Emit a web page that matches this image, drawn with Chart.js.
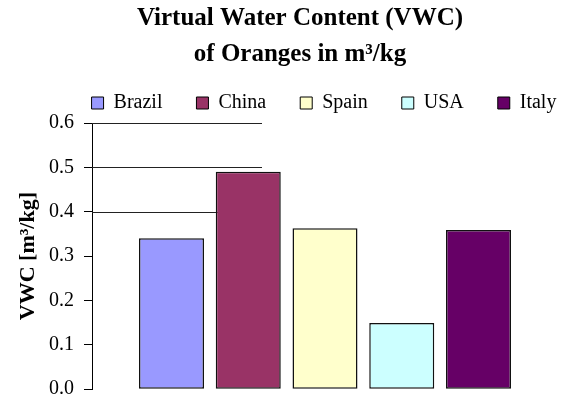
<!DOCTYPE html>
<html>
<head>
<meta charset="utf-8">
<script src="https://cdn.jsdelivr.net/npm/chart.js@4/dist/chart.umd.min.js"></script>
<style>
  html, body { margin: 0; padding: 0; background: #fff; }
  #wrap { width: 564px; height: 405px; }
</style>
</head>
<body>
<div id="wrap"><canvas id="myChart"></canvas></div>
<script>
const countries = ['Brazil', 'China', 'Spain', 'USA', 'Italy']
const vwc = [0.34, 0.49, 0.363, 0.149, 0.359]
const colors = ['#9999FF', '#993366', '#FFFFCC', '#CCFFFF', '#660066']
const yTicks = [0.0, 0.1, 0.2, 0.3, 0.4, 0.5, 0.6]

const serif = "'Liberation Serif', 'Times New Roman', serif"
Chart.defaults.font.family = serif
Chart.defaults.color = '#000'

// the old chart only shows the upper grid lines, and only part way across
const partialGrid = {
    id: 'partialGrid',
    beforeDatasetsDraw(chart) {
        const ctx = chart.ctx
        const y = chart.scales.y
        const left = chart.chartArea.left
        ctx.save()
        ctx.strokeStyle = '#222'
        ctx.lineWidth = 1
        yTicks.filter(v => v >= 0.4).forEach(v => {
            const py = Math.round(y.getPixelForValue(v)) + 0.5
            ctx.beginPath()
            ctx.moveTo(left, py)
            ctx.lineTo(left + 170, py)
            ctx.stroke()
        })
        ctx.restore()
    }
}

// title and legend are not centred on the canvas in the original
const nudge = {
    id: 'nudge',
    afterLayout(chart) {
        chart.titleBlock.left += 21
        chart.titleBlock.right += 21
        chart.legend.left += 45
        chart.legend.right += 45
    }
}

new Chart(document.getElementById('myChart'), {
    type: 'bar',
    data: {
        labels: [''],
        datasets: countries.map((name, i) => ({
            label: name,
            data: [vwc[i]],
            backgroundColor: colors[i],
            borderColor: '#111',
            borderWidth: 1.5,
            borderSkipped: false,
            categoryPercentage: 0.8235,
            barPercentage: 0.847
        }))
    },
    options: {
        responsive: true,
        maintainAspectRatio: false,
        animation: false,
        layout: { padding: { left: 0, right: 6, top: 0, bottom: 10 } },
        plugins: {
            title: {
                display: true,
                text: ['Virtual Water Content (VWC)', 'of Oranges in m³/kg'],
                color: '#000',
                font: { family: serif, size: 25, weight: 'bold', lineHeight: 1.44 },
                padding: { top: 1, bottom: -14 }
            },
            legend: {
                display: true,
                labels: {
                    color: '#000',
                    font: { family: serif, size: 20 },
                    boxWidth: 12,
                    boxHeight: 12,
                    padding: 34,
                    generateLabels(chart) {
                        return chart.data.datasets.map((ds, i) => ({
                            text: ds.label,
                            fillStyle: ds.backgroundColor,
                            strokeStyle: '#000',
                            lineWidth: 1,
                            datasetIndex: i
                        }))
                    }
                }
            },
            tooltip: { enabled: false }
        },
        scales: {
            x: { display: false },
            y: {
                min: 0,
                max: 0.6,
                afterBuildTicks(axis) {
                    axis.ticks = yTicks.map(v => ({ value: v }))
                },
                ticks: {
                    color: '#000',
                    font: { family: serif, size: 20, lineHeight: 0.58 },
                    padding: 10,
                    callback: v => v.toFixed(1)
                },
                grid: {
                    display: true,
                    drawOnChartArea: false,
                    drawTicks: true,
                    tickLength: 8,
                    color: '#000'
                },
                border: { display: true, color: '#000', width: 1 },
                title: {
                    display: true,
                    text: 'VWC [m³/kg]',
                    color: '#000',
                    font: { family: serif, size: 22, weight: 'bold', lineHeight: 1.2 },
                    padding: { top: 15, bottom: -2.4 }
                }
            }
        }
    },
    plugins: [partialGrid, nudge]
})
</script>
</body>
</html>
